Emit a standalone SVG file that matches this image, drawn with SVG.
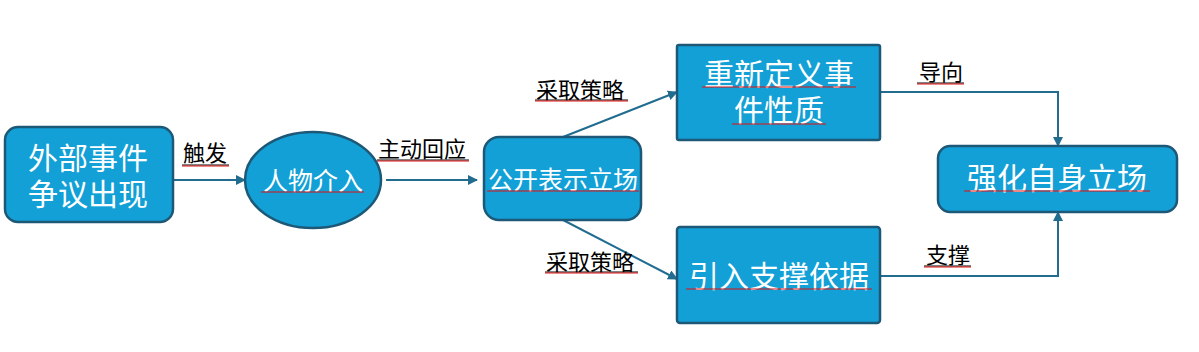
<svg xmlns="http://www.w3.org/2000/svg" width="1199" height="352" viewBox="0 0 1199 352">
<defs>
<style>
.n{fill:#12a0d6;stroke:#1d5877;stroke-width:2.5}
.t{fill:#fff;font-family:"Noto Sans CJK SC","Liberation Sans",sans-serif;text-anchor:middle}
.l{fill:#000;font-family:"Noto Sans CJK SC","Liberation Sans",sans-serif;font-size:22px}
.c{fill:none;stroke:#216c8f;stroke-width:2}
.u{stroke:#e01010;stroke-width:1.2}
.k{stroke:#000;stroke-width:1}
</style>
<marker id="a" markerWidth="10" markerHeight="10" refX="9" refY="5" orient="auto" markerUnits="userSpaceOnUse">
<path d="M0,0 L10,5 L0,10 Z" fill="#216c8f"/>
</marker>
</defs>
<rect width="1199" height="352" fill="#fff"/>
<g id="connectors">
<line class="c" x1="173" y1="180" x2="245" y2="180" marker-end="url(#a)"/>
<line class="c" x1="386" y1="180" x2="477" y2="180" marker-end="url(#a)"/>
<line class="c" x1="563" y1="137" x2="677" y2="92" marker-end="url(#a)"/>
<line class="c" x1="563" y1="220" x2="677" y2="279" marker-end="url(#a)"/>
<polyline class="c" points="880,92 1058,92 1058,146" marker-end="url(#a)"/>
<polyline class="c" points="880,276 1058,276 1058,212" marker-end="url(#a)"/>
<g id="labels">
<text class="l" x="183" y="161">触发</text>
<line class="k" x1="182" y1="165" x2="229" y2="165"/>
<line class="u" x1="182" y1="166" x2="229" y2="166"/>
<text class="l" x="378" y="157">主动回应</text>
<line class="k" x1="377" y1="160" x2="469" y2="160"/>
<line class="u" x1="377" y1="161" x2="469" y2="161"/>
<text class="l" x="536" y="98">采取策略</text>
<line class="k" x1="535" y1="100" x2="628" y2="100"/>
<line class="u" x1="535" y1="101" x2="628" y2="101"/>
<text class="l" x="546" y="270">采取策略</text>
<line class="k" x1="545" y1="272" x2="638" y2="272"/>
<line class="u" x1="545" y1="273" x2="638" y2="273"/>
<text class="l" x="919" y="80">导向</text>
<line class="k" x1="917" y1="83" x2="964" y2="83"/>
<line class="u" x1="917" y1="84" x2="964" y2="84"/>
<text class="l" x="926" y="263">支撑</text>
<line class="k" x1="924" y1="266" x2="971" y2="266"/>
<line class="u" x1="924" y1="267" x2="971" y2="267"/>
</g>
</g>
<g id="n1">
<rect class="n" x="5" y="127" width="168" height="95" rx="13"/>
<text class="t" font-size="30"><tspan x="88" y="169">外部事件</tspan><tspan x="88" y="205">争议出现</tspan></text>
</g>
<g id="n2">
<ellipse class="n" cx="313" cy="180" rx="68" ry="48"/>
<text class="t" x="313" y="190" font-size="25">人物介入</text>
<line class="u" x1="261" y1="192" x2="364" y2="192"/>
</g>
<g id="n3">
<rect class="n" x="484" y="137" width="157" height="83" rx="15"/>
<text class="t" x="563" y="189" font-size="25">公开表示立场</text>
<line class="u" x1="487" y1="191" x2="639" y2="191"/>
</g>
<g id="n4">
<rect class="n" x="677" y="45" width="203" height="95" rx="2"/>
<text class="t" font-size="30"><tspan x="779" y="85">重新定义事</tspan><tspan x="779" y="121">件性质</tspan></text>
<line class="u" x1="702" y1="87" x2="856" y2="87"/>
<line class="u" x1="732" y1="124" x2="826" y2="124"/>
</g>
<g id="n5">
<rect class="n" x="677" y="227" width="203" height="96" rx="3"/>
<text class="t" x="779" y="287" font-size="30">引入支撑依据</text>
<line class="u" x1="686" y1="289" x2="872" y2="289"/>
</g>
<g id="n6">
<rect class="n" x="938" y="146" width="239" height="66" rx="12"/>
<text class="t" x="1057" y="189" font-size="30">强化自身立场</text>
<line class="u" x1="964" y1="191" x2="1150" y2="191"/>
</g>
</svg>
